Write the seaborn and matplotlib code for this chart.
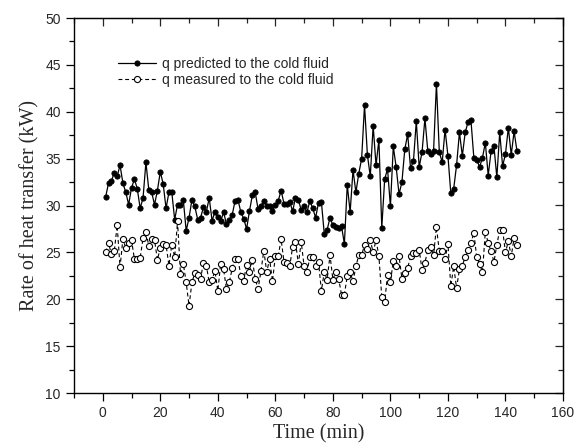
import matplotlib
matplotlib.use("Agg")
import matplotlib.pyplot as plt
from matplotlib.ticker import MultipleLocator
import seaborn as sns
import pandas as pd

time_min = list(range(1, 145))

q_predicted = [
    30.9, 32.4, 32.6, 33.5, 33.1, 34.3, 32.4, 31.4, 30.1, 31.9,
    32.8, 31.8, 29.7, 30.8, 34.6, 31.7, 31.4, 30.1, 31.6, 33.6,
    32.3, 29.7, 31.4, 31.4, 28.5, 30.1, 30.1, 30.6, 27.3, 28.7,
    30.6, 29.9, 28.5, 28.7, 29.8, 29.3, 30.8, 28.4, 29.3, 28.8,
    28.3, 29.3, 28.0, 28.5, 29.0, 30.5, 30.6, 29.3, 28.6, 27.5,
    29.4, 31.1, 31.4, 29.6, 29.9, 30.5, 30.0, 29.9, 29.4, 30.1,
    30.5, 31.6, 30.2, 30.2, 30.4, 29.4, 30.8, 30.6, 29.5, 29.9,
    29.3, 30.5, 29.7, 28.7, 30.3, 30.4, 27.0, 27.4, 28.7, 27.9,
    27.7, 27.6, 27.8, 25.9, 32.2, 29.3, 33.8, 31.4, 33.4, 35.0,
    40.7, 35.4, 33.1, 38.5, 34.3, 37.0, 27.6, 32.8, 33.9, 29.9,
    36.3, 34.1, 31.2, 32.5, 36.0, 37.6, 34.0, 34.7, 39.0, 34.1,
    35.7, 39.3, 35.8, 35.5, 35.8, 43.0, 35.7, 34.6, 38.1, 35.3,
    31.3, 31.8, 34.3, 37.8, 35.3, 37.8, 38.9, 39.1, 35.1, 34.9,
    34.1, 35.1, 36.7, 33.2, 35.8, 36.3, 33.0, 37.8, 34.2, 35.5,
    38.3, 35.4, 37.9, 35.8,
]

q_measured = [
    25.0, 26.0, 24.8, 25.1, 27.9, 23.4, 26.4, 25.5, 26.0, 26.3,
    24.3, 24.3, 24.4, 26.5, 27.2, 25.7, 26.4, 26.3, 24.2, 25.5,
    25.9, 25.8, 23.6, 25.8, 24.5, 28.3, 22.7, 23.8, 21.8, 19.3,
    21.8, 22.8, 22.6, 22.2, 23.9, 23.6, 21.8, 22.1, 23.0, 20.9,
    23.8, 23.2, 21.1, 21.8, 23.3, 24.3, 24.3, 22.5, 22.0, 23.7,
    22.9, 24.2, 22.2, 21.1, 23.0, 25.2, 22.9, 24.3, 21.9, 24.6,
    24.6, 26.4, 24.0, 23.9, 23.5, 25.6, 26.1, 23.8, 26.1, 23.5,
    22.9, 24.5, 24.5, 23.5, 24.0, 20.9, 22.9, 22.1, 24.7, 22.1,
    22.9, 22.2, 20.5, 20.5, 22.5, 22.9, 21.9, 23.5, 24.7, 24.7,
    25.8, 25.4, 26.3, 25.0, 26.3, 24.6, 20.2, 19.7, 22.6, 21.8,
    24.1, 23.5, 24.6, 22.2, 22.8, 23.3, 24.6, 24.9, 24.9, 25.3,
    23.1, 23.9, 25.3, 25.6, 24.7, 27.7, 25.1, 25.1, 24.3, 25.9,
    21.4, 23.5, 21.2, 23.2, 23.6, 24.5, 25.3, 26.0, 27.1, 24.5,
    23.8, 22.9, 27.2, 26.0, 25.1, 24.0, 25.8, 27.4, 27.4, 25.0,
    26.2, 24.6, 26.5, 25.8,
]

labels = ["q predicted to the cold fluid", "q measured to the cold fluid"]
x_ticks = [0, 20, 40, 60, 80, 100, 120, 140, 160]
y_ticks = [10, 15, 20, 25, 30, 35, 40, 45, 50]

sns.set_style("ticks")
plt.rcParams["font.family"] = ["Liberation Sans", "DejaVu Sans"]

df_pred = pd.DataFrame({"t": time_min, "q": q_predicted})
df_meas = pd.DataFrame({"t": time_min, "q": q_measured})

fig = plt.figure(figsize=(5.81, 4.48), dpi=100)
ax = fig.add_axes([74 / 581, 55 / 448, 489 / 581, 375 / 448])

sns.lineplot(data=df_pred, x="t", y="q", ax=ax, color="black", lw=0.9,
             marker="o", markersize=3.8, markerfacecolor="black",
             markeredgecolor="black", markeredgewidth=0.6, label=labels[0])
sns.lineplot(data=df_meas, x="t", y="q", ax=ax, color="black", lw=0.8,
             linestyle=(0, (3.5, 2.5)), marker="o", markersize=4.4,
             markerfacecolor="white", markeredgecolor="black",
             markeredgewidth=0.8, label=labels[1])

ax.set_xlim(-10, 160)
ax.set_ylim(10, 50)
ax.set_xticks(x_ticks)
ax.set_yticks(y_ticks)
ax.xaxis.set_minor_locator(MultipleLocator(10))
ax.yaxis.set_minor_locator(MultipleLocator(2.5))
ax.tick_params(which="both", direction="out", top=False, right=False,
               labelsize=10, color="black", width=0.9)
ax.tick_params(which="major", length=6)
ax.tick_params(which="minor", length=3.5)
for sp in ax.spines.values():
    sp.set_visible(True)
    sp.set_linewidth(1.0)
    sp.set_color("black")

# mirrored inward ticks on top / right (Origin style)
axt = ax.secondary_xaxis("top")
axt.set_xticks(x_ticks)
axt.xaxis.set_minor_locator(MultipleLocator(10))
axt.tick_params(which="both", direction="in", labeltop=False, width=0.9)
axt.tick_params(which="major", length=6)
axt.tick_params(which="minor", length=3.5)
axr = ax.secondary_yaxis("right")
axr.set_yticks(y_ticks)
axr.yaxis.set_minor_locator(MultipleLocator(2.5))
axr.tick_params(which="both", direction="in", labelright=False, width=0.9)
axr.tick_params(which="major", length=6)
axr.tick_params(which="minor", length=3.5)

ax.set_xlabel("Time (min)", family=["Liberation Serif"], fontsize=14.5, labelpad=3)
ax.set_ylabel("Rate of heat transfer (kW)", family=["Liberation Serif"], fontsize=14.5, labelpad=4)

leg = ax.legend(loc="upper left", bbox_to_anchor=(0.09, 0.897), frameon=False,
                fontsize=10, handlelength=2.7, handletextpad=0.5,
                labelspacing=0.15, borderaxespad=0, borderpad=0)

fig.savefig("out.png", dpi=100)
